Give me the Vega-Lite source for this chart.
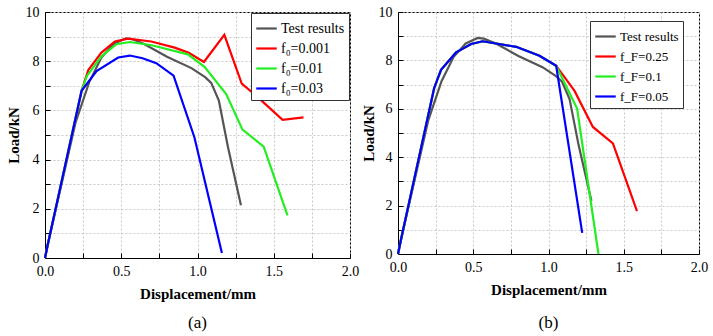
{
  "$schema": "https://vega.github.io/schema/vega-lite/v6.json",
  "background": "white",
  "padding": {"left": 5, "top": 4, "right": 2, "bottom": 2},
  "config": {
    "font": "Liberation Serif",
    "view": {"stroke": "black", "strokeWidth": 1},
    "axis": {
      "labelFont": "Liberation Serif", "labelFontSize": 14, "labelColor": "black", "labelFlush": false,
      "titleFont": "Liberation Serif", "titleFontSize": 15, "titleFontWeight": "bold", "titleColor": "black",
      "domainColor": "black", "tickColor": "black", "gridColor": "#c8c8c8", "gridDash": [2, 2]
    },
    "legend": {
      "labelFont": "Liberation Serif", "labelFontSize": 14, "labelColor": "black",
      "strokeColor": "#333333", "fillColor": "white", "padding": 4, "rowPadding": 1, "labelOffset": 3,
      "symbolType": "stroke", "symbolSize": 420, "symbolStrokeWidth": 2.2, "title": null
    },
    "title": {"font": "Liberation Serif", "fontSize": 17, "fontWeight": "normal", "color": "black"}
  },
  "datasets": {
    "a": [
      {"s": "Test results", "x": 0, "y": 0}, {"s": "Test results", "x": 0.02, "y": 0.6}, {"s": "Test results", "x": 0.2, "y": 5.5}, {"s": "Test results", "x": 0.29, "y": 7.15}, {"s": "Test results", "x": 0.37, "y": 8.15}, {"s": "Test results", "x": 0.45, "y": 8.7}, {"s": "Test results", "x": 0.53, "y": 8.93}, {"s": "Test results", "x": 0.57, "y": 8.9}, {"s": "Test results", "x": 0.65, "y": 8.7}, {"s": "Test results", "x": 0.8, "y": 8.18}, {"s": "Test results", "x": 0.96, "y": 7.72}, {"s": "Test results", "x": 1.05, "y": 7.35}, {"s": "Test results", "x": 1.09, "y": 7.12}, {"s": "Test results", "x": 1.14, "y": 6.4}, {"s": "Test results", "x": 1.2, "y": 4.5}, {"s": "Test results", "x": 1.285, "y": 2.14},
      {"s": "f₀=0.001", "x": 0, "y": 0}, {"s": "f₀=0.001", "x": 0.02, "y": 0.6}, {"s": "f₀=0.001", "x": 0.24, "y": 6.8}, {"s": "f₀=0.001", "x": 0.284, "y": 7.64}, {"s": "f₀=0.001", "x": 0.37, "y": 8.35}, {"s": "f₀=0.001", "x": 0.458, "y": 8.8}, {"s": "f₀=0.001", "x": 0.545, "y": 8.92}, {"s": "f₀=0.001", "x": 0.697, "y": 8.8}, {"s": "f₀=0.001", "x": 0.85, "y": 8.55}, {"s": "f₀=0.001", "x": 0.94, "y": 8.35}, {"s": "f₀=0.001", "x": 1.042, "y": 7.97}, {"s": "f₀=0.001", "x": 1.176, "y": 9.07}, {"s": "f₀=0.001", "x": 1.29, "y": 7.09}, {"s": "f₀=0.001", "x": 1.384, "y": 6.6}, {"s": "f₀=0.001", "x": 1.558, "y": 5.62}, {"s": "f₀=0.001", "x": 1.695, "y": 5.72},
      {"s": "f₀=0.01", "x": 0, "y": 0}, {"s": "f₀=0.01", "x": 0.02, "y": 0.6}, {"s": "f₀=0.01", "x": 0.24, "y": 6.8}, {"s": "f₀=0.01", "x": 0.275, "y": 7.4}, {"s": "f₀=0.01", "x": 0.37, "y": 8.2}, {"s": "f₀=0.01", "x": 0.469, "y": 8.69}, {"s": "f₀=0.01", "x": 0.556, "y": 8.78}, {"s": "f₀=0.01", "x": 0.7, "y": 8.65}, {"s": "f₀=0.01", "x": 0.937, "y": 8.28}, {"s": "f₀=0.01", "x": 1.046, "y": 7.77}, {"s": "f₀=0.01", "x": 1.188, "y": 6.66}, {"s": "f₀=0.01", "x": 1.295, "y": 5.22}, {"s": "f₀=0.01", "x": 1.434, "y": 4.53}, {"s": "f₀=0.01", "x": 1.59, "y": 1.73},
      {"s": "f₀=0.03", "x": 0, "y": 0}, {"s": "f₀=0.03", "x": 0.02, "y": 0.6}, {"s": "f₀=0.03", "x": 0.24, "y": 6.8}, {"s": "f₀=0.03", "x": 0.338, "y": 7.6}, {"s": "f₀=0.03", "x": 0.48, "y": 8.15}, {"s": "f₀=0.03", "x": 0.556, "y": 8.23}, {"s": "f₀=0.03", "x": 0.64, "y": 8.12}, {"s": "f₀=0.03", "x": 0.73, "y": 7.92}, {"s": "f₀=0.03", "x": 0.843, "y": 7.41}, {"s": "f₀=0.03", "x": 0.98, "y": 4.9}, {"s": "f₀=0.03", "x": 1.16, "y": 0.2}
    ],
    "b": [
      {"s": "Test results", "x": 0, "y": 0}, {"s": "Test results", "x": 0.02, "y": 0.6}, {"s": "Test results", "x": 0.2, "y": 5.5}, {"s": "Test results", "x": 0.29, "y": 7.15}, {"s": "Test results", "x": 0.37, "y": 8.15}, {"s": "Test results", "x": 0.45, "y": 8.7}, {"s": "Test results", "x": 0.53, "y": 8.93}, {"s": "Test results", "x": 0.57, "y": 8.9}, {"s": "Test results", "x": 0.65, "y": 8.7}, {"s": "Test results", "x": 0.8, "y": 8.18}, {"s": "Test results", "x": 0.96, "y": 7.72}, {"s": "Test results", "x": 1.05, "y": 7.35}, {"s": "Test results", "x": 1.09, "y": 7.12}, {"s": "Test results", "x": 1.14, "y": 6.4}, {"s": "Test results", "x": 1.2, "y": 4.5}, {"s": "Test results", "x": 1.285, "y": 2.2},
      {"s": "f_F=0.25", "x": 0, "y": 0}, {"s": "f_F=0.25", "x": 0.02, "y": 0.6}, {"s": "f_F=0.25", "x": 0.24, "y": 6.85}, {"s": "f_F=0.25", "x": 0.286, "y": 7.61}, {"s": "f_F=0.25", "x": 0.386, "y": 8.33}, {"s": "f_F=0.25", "x": 0.486, "y": 8.68}, {"s": "f_F=0.25", "x": 0.563, "y": 8.79}, {"s": "f_F=0.25", "x": 0.785, "y": 8.56}, {"s": "f_F=0.25", "x": 0.94, "y": 8.19}, {"s": "f_F=0.25", "x": 1.051, "y": 7.78}, {"s": "f_F=0.25", "x": 1.173, "y": 6.74}, {"s": "f_F=0.25", "x": 1.295, "y": 5.25}, {"s": "f_F=0.25", "x": 1.428, "y": 4.57}, {"s": "f_F=0.25", "x": 1.588, "y": 1.77},
      {"s": "f_F=0.1", "x": 0, "y": 0}, {"s": "f_F=0.1", "x": 0.02, "y": 0.6}, {"s": "f_F=0.1", "x": 0.24, "y": 6.85}, {"s": "f_F=0.1", "x": 0.286, "y": 7.61}, {"s": "f_F=0.1", "x": 0.386, "y": 8.33}, {"s": "f_F=0.1", "x": 0.486, "y": 8.68}, {"s": "f_F=0.1", "x": 0.563, "y": 8.79}, {"s": "f_F=0.1", "x": 0.785, "y": 8.56}, {"s": "f_F=0.1", "x": 0.94, "y": 8.19}, {"s": "f_F=0.1", "x": 1.051, "y": 7.78}, {"s": "f_F=0.1", "x": 1.19, "y": 6.01}, {"s": "f_F=0.1", "x": 1.332, "y": 0},
      {"s": "f_F=0.05", "x": 0, "y": 0}, {"s": "f_F=0.05", "x": 0.02, "y": 0.6}, {"s": "f_F=0.05", "x": 0.24, "y": 6.85}, {"s": "f_F=0.05", "x": 0.286, "y": 7.61}, {"s": "f_F=0.05", "x": 0.386, "y": 8.33}, {"s": "f_F=0.05", "x": 0.486, "y": 8.68}, {"s": "f_F=0.05", "x": 0.563, "y": 8.79}, {"s": "f_F=0.05", "x": 0.785, "y": 8.56}, {"s": "f_F=0.05", "x": 0.94, "y": 8.19}, {"s": "f_F=0.05", "x": 1.051, "y": 7.78}, {"s": "f_F=0.05", "x": 1.224, "y": 0.87}
    ]
  },
  "hconcat": [
    {
      "width": 305, "height": 246,
      "title": {"text": "(a)", "orient": "bottom", "offset": 14},
      "data": {"name": "a"},
      "mark": {"type": "line", "strokeWidth": 2.2},
      "encoding": {
        "x": {"field": "x", "type": "quantitative", "scale": {"domain": [0, 2]}, "title": "Displacement/mm",
          "axis": {"values": [0, 0.25, 0.5, 0.75, 1, 1.25, 1.5, 1.75, 2], "labelExpr": "datum.value % 0.5 == 0 ? format(datum.value, '.1f') : ''", "tickSize": -5, "labelPadding": 11, "titlePadding": 8}},
        "y": {"field": "y", "type": "quantitative", "scale": {"domain": [0, 10]}, "title": "Load/kN",
          "axis": {"values": [0, 1, 2, 3, 4, 5, 6, 7, 8, 9, 10], "labelExpr": "datum.value % 2 == 0 ? format(datum.value, 'd') : ''", "tickSize": -5, "labelPadding": 11, "titlePadding": 4}},
        "color": {"field": "s", "type": "nominal",
          "scale": {"domain": ["Test results", "f₀=0.001", "f₀=0.01", "f₀=0.03"], "range": ["#555555", "#ff0000", "#22ee22", "#0000ff"]},
          "legend": {"orient": "top-right", "offset": 1, "strokeColor": "#333333", "fillColor": "white"}}
      }
    },
    {
      "width": 301, "height": 242,
      "title": {"text": "(b)", "orient": "bottom", "offset": 18},
      "data": {"name": "b"},
      "mark": {"type": "line", "strokeWidth": 2.2},
      "encoding": {
        "x": {"field": "x", "type": "quantitative", "scale": {"domain": [0, 2]}, "title": "Displacement/mm",
          "axis": {"values": [0, 0.25, 0.5, 0.75, 1, 1.25, 1.5, 1.75, 2], "labelExpr": "datum.value % 0.5 == 0 ? format(datum.value, '.1f') : ''", "tickSize": -5, "labelPadding": 11, "titlePadding": 8}},
        "y": {"field": "y", "type": "quantitative", "scale": {"domain": [0, 10]}, "title": "Load/kN",
          "axis": {"values": [0, 1, 2, 3, 4, 5, 6, 7, 8, 9, 10], "labelExpr": "datum.value % 2 == 0 ? format(datum.value, 'd') : ''", "tickSize": -5, "labelPadding": 11, "titlePadding": 2}},
        "color": {"field": "s", "type": "nominal",
          "scale": {"domain": ["Test results", "f_F=0.25", "f_F=0.1", "f_F=0.05"], "range": ["#555555", "#ff0000", "#22ee22", "#0000ff"]},
          "legend": {"orient": "none", "legendX": 192, "legendY": 9, "labelFontSize": 13, "strokeColor": "#333333", "fillColor": "white"}}
      }
    }
  ],
  "spacing": 0,
  "resolve": {"scale": {"color": "independent"}}
}
